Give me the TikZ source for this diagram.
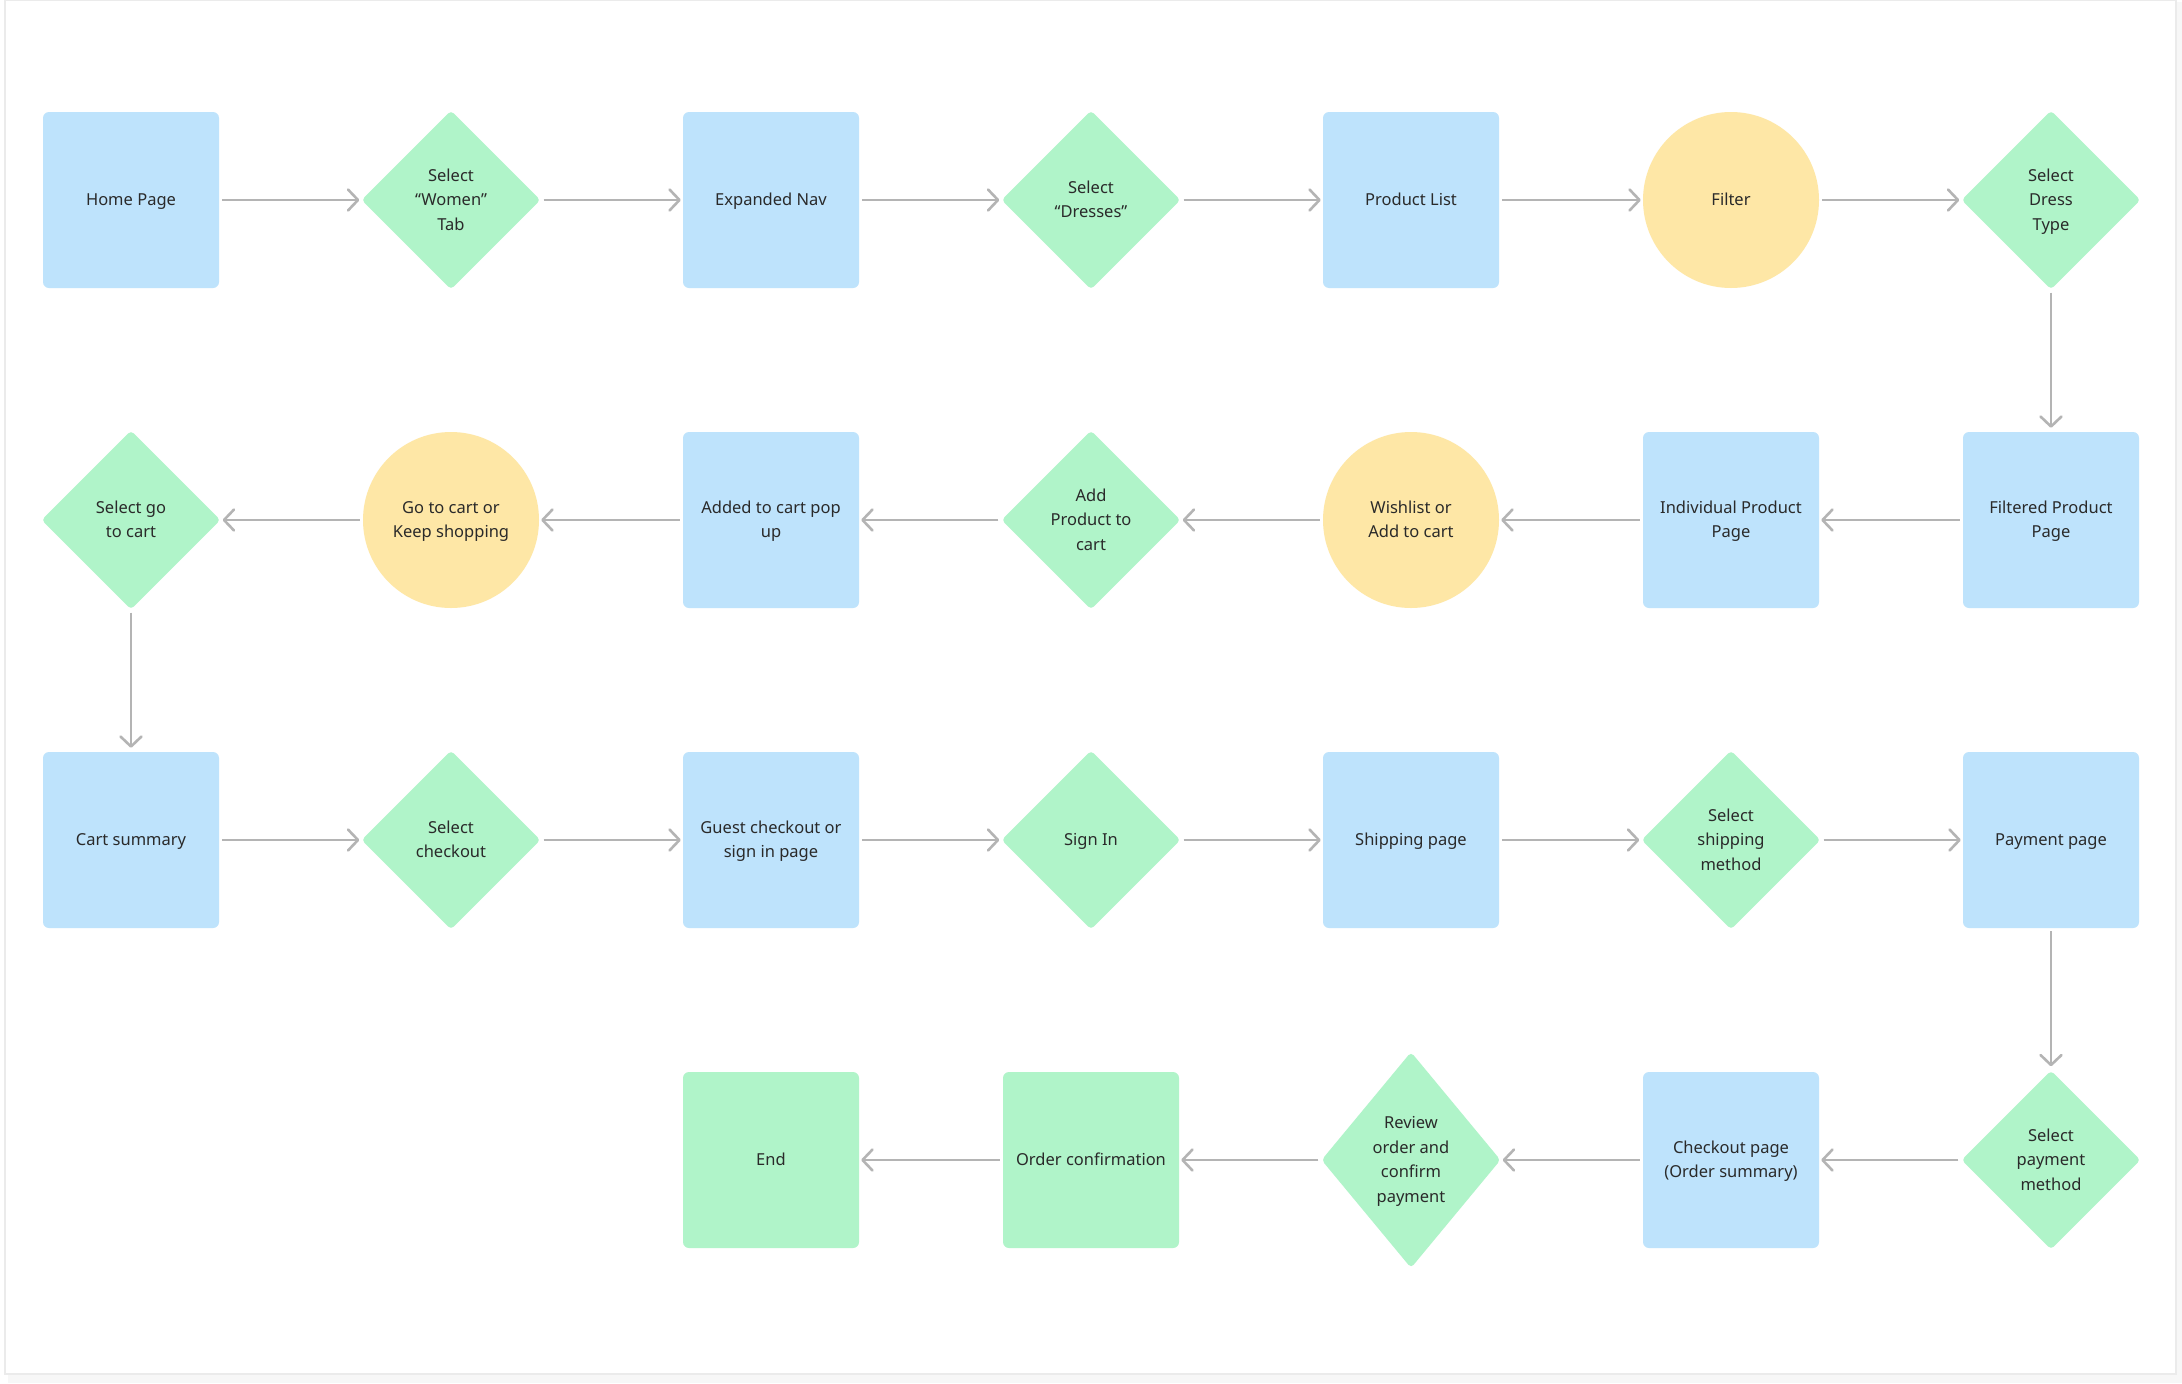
\documentclass[tikz,border=0pt]{standalone}
\usepackage{fontspec}
\setmainfont{Noto Sans}
\usetikzlibrary{shapes.geometric,arrows.meta}
\definecolor{boxblue}{HTML}{BEE3FC}
\definecolor{decgreen}{HTML}{B0F4C9}
\definecolor{circyellow}{HTML}{FEE7A6}
\definecolor{arrgray}{HTML}{B4B4B4}
\definecolor{txt}{HTML}{2A2A2A}
\begin{document}
\begin{tikzpicture}[x=1pt,y=-1pt,
  every node/.style={font=\fontsize{16.5}{24.5}\selectfont, text=txt, align=center, inner sep=0pt, text height=11pt, text depth=0pt},
  ltwo/.style={text height=35.5pt},
  lthree/.style={text height=60pt},
  lfour/.style={text height=84.5pt},
  box/.style={rectangle, rounded corners=6pt, minimum width=176pt, minimum height=176pt, fill=boxblue},
  gbox/.style={box, fill=decgreen},
  dec/.style={diamond, aspect=1, rounded corners=4pt, minimum width=179pt, minimum height=179pt, fill=decgreen},
  circ/.style={circle, minimum size=176pt, fill=circyellow},
  arr/.style={draw=arrgray, line width=2.6pt, shorten <=3pt, shorten >=2pt, -{Straight Barb[length=10pt,width=21pt,round]}}
]
\useasboundingbox (0,0) rectangle (2182,1384);
% card
\fill[black!6] (9,4) rectangle (2180,1380);
\fill[black!3] (8,2) rectangle (2182,1383);
\filldraw[fill=white, draw=black!8, line width=1.2pt] (5,0) rectangle (2176,1374);

% row 1
\node[box]  (home)  at (131,200) {Home Page};
\node[dec, lthree]  (women) at (451,200) {Select\\“Women”\\Tab};
\node[box]  (nav)   at (771,200) {Expanded Nav};
\node[dec, ltwo]  (dress) at (1091,200) {Select\\“Dresses”};
\node[box]  (plist) at (1411,200) {Product List};
\node[circ] (filt)  at (1731,200) {Filter};
\node[dec, lthree]  (dtype) at (2051,200) {Select\\Dress\\Type};
% row 2
\node[box, ltwo]  (fpp)   at (2051,520) {Filtered Product\\Page};
\node[box, ltwo]  (ipp)   at (1731,520) {Individual Product\\Page};
\node[circ, ltwo] (wish)  at (1411,520) {Wishlist or\\Add to cart};
\node[dec, lthree]  (addp)  at (1091,520) {Add\\Product to\\cart};
\node[box, ltwo]  (popup) at (771,520) {Added to cart pop\\up};
\node[circ, ltwo] (goto)  at (451,520) {Go to cart or\\Keep shopping};
\node[dec, ltwo]  (sgo)   at (131,520) {Select go\\to cart};
% row 3
\node[box]  (cart)  at (131,840) {Cart summary};
\node[dec, ltwo]  (schk)  at (451,840) {Select\\checkout};
\node[box, ltwo]  (guest) at (771,840) {Guest checkout or\\sign in page};
\node[dec]  (sign)  at (1091,840) {Sign In};
\node[box]  (ship)  at (1411,840) {Shipping page};
\node[dec, lthree]  (sship) at (1731,840) {Select\\shipping\\method};
\node[box]  (pay)   at (2051,840) {Payment page};
% row 4
\node[dec, lthree]  (spay)  at (2051,1160) {Select\\payment\\method};
\node[box, ltwo]  (chk)   at (1731,1160) {Checkout page\\(Order summary)};
\node[dec, lfour, minimum height=216pt] (rev) at (1411,1160) {Review\\order and\\confirm\\payment};
\node[gbox] (conf)  at (1091,1160) {Order confirmation};
\node[gbox] (end)   at (771,1160) {End};

% connectors
\draw[arr] (home.east) -- (women.west);
\draw[arr] (women.east) -- (nav.west);
\draw[arr] (nav.east) -- (dress.west);
\draw[arr] (dress.east) -- (plist.west);
\draw[arr] (plist.east) -- (filt.west);
\draw[arr] (filt.east) -- (dtype.west);
\draw[arr, shorten >=4pt] (dtype.south) -- (fpp.north);
\draw[arr] (fpp.west) -- (ipp.east);
\draw[arr] (ipp.west) -- (wish.east);
\draw[arr] (wish.west) -- (addp.east);
\draw[arr] (addp.west) -- (popup.east);
\draw[arr] (popup.west) -- (goto.east);
\draw[arr] (goto.west) -- (sgo.east);
\draw[arr, shorten >=4pt] (sgo.south) -- (cart.north);
\draw[arr] (cart.east) -- (schk.west);
\draw[arr] (schk.east) -- (guest.west);
\draw[arr] (guest.east) -- (sign.west);
\draw[arr] (sign.east) -- (ship.west);
\draw[arr] (ship.east) -- (sship.west);
\draw[arr] (sship.east) -- (pay.west);
\draw[arr, shorten >=4pt] (pay.south) -- (spay.north);
\draw[arr] (spay.west) -- (chk.east);
\draw[arr] (chk.west) -- (rev.east);
\draw[arr] (rev.west) -- (conf.east);
\draw[arr] (conf.west) -- (end.east);
\end{tikzpicture}
\end{document}
